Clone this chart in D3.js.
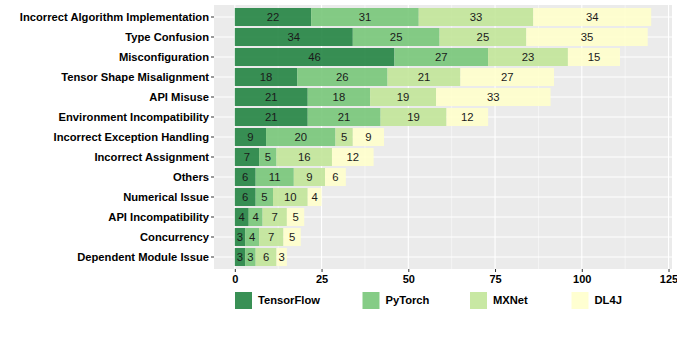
<!DOCTYPE html>
<html>
<head>
<meta charset="utf-8">
<script src="https://cdn.jsdelivr.net/npm/d3@7"></script>
<style>
  body { margin: 0; background: #fff; }
  text { font-family: "Liberation Sans", Arial, sans-serif; }
</style>
</head>
<body>
<script>
// categories, top to bottom
const categories = [
  "Incorrect Algorithm Implementation", "Type Confusion", "Misconfiguration",
  "Tensor Shape Misalignment", "API Misuse", "Environment Incompatibility",
  "Incorrect Exception Handling", "Incorrect Assignment", "Others",
  "Numerical Issue", "API Incompatibility", "Concurrency", "Dependent Module Issue"
];
const frameworks = ["TensorFlow", "PyTorch", "MXNet", "DL4J"];
const tensorflow = [22, 34, 46, 18, 21, 21, 9, 7, 6, 6, 4, 3, 3];
const pytorch    = [31, 25, 27, 26, 18, 21, 20, 5, 11, 5, 4, 4, 3];
const mxnet      = [33, 25, 23, 21, 19, 19, 5, 16, 9, 10, 7, 7, 6];
const dl4j       = [34, 35, 15, 27, 33, 12, 9, 12, 6, 4, 5, 5, 3];
const xTicks = [0, 25, 50, 75, 100, 125];
const colors = ["#238443", "#78c679", "#c2e699", "#ffffcc"];

const W = 677, H = 343;
const panel = { left: 214, top: 5, right: 672, bottom: 269 };

const rows = categories.map((c, i) => ({
  category: c,
  TensorFlow: tensorflow[i], PyTorch: pytorch[i], MXNet: mxnet[i], DL4J: dl4j[i]
}));
const stacked = d3.stack().keys(frameworks)(rows);

const x = d3.scaleLinear().domain([-6, 126]).range([panel.left, panel.right]);
const y = d3.scaleBand().domain(categories)
  .range([panel.top, panel.bottom]).paddingInner(0.1).paddingOuter(0.15);
const color = d3.scaleOrdinal().domain(frameworks).range(colors);

const svg = d3.select("body").append("svg")
  .attr("width", W).attr("height", H);

// panel background
svg.append("rect")
  .attr("x", panel.left).attr("y", panel.top)
  .attr("width", panel.right - panel.left).attr("height", panel.bottom - panel.top)
  .attr("fill", "#ebebeb");

// minor grid
const minor = [12.5, 37.5, 62.5, 87.5, 112.5];
svg.append("g").selectAll("line").data(minor).join("line")
  .attr("x1", d => x(d)).attr("x2", d => x(d))
  .attr("y1", panel.top).attr("y2", panel.bottom)
  .attr("stroke", "#fff").attr("stroke-width", 0.5);

// major grid
svg.append("g").selectAll("line").data(xTicks.filter(d => x(d) < panel.right)).join("line")
  .attr("x1", d => x(d)).attr("x2", d => x(d))
  .attr("y1", panel.top).attr("y2", panel.bottom)
  .attr("stroke", "#fff").attr("stroke-width", 1.1);
svg.append("g").selectAll("line").data(categories).join("line")
  .attr("x1", panel.left).attr("x2", panel.right)
  .attr("y1", d => y(d) + y.bandwidth() / 2).attr("y2", d => y(d) + y.bandwidth() / 2)
  .attr("stroke", "#fff").attr("stroke-width", 1.1);

// bars (slightly transparent, grid shows through)
const layers = svg.append("g").selectAll("g").data(stacked).join("g")
  .attr("fill", d => color(d.key))
  .attr("fill-opacity", 0.9);
layers.selectAll("rect").data(d => d).join("rect")
  .attr("x", d => x(d[0]))
  .attr("y", d => y(d.data.category))
  .attr("width", d => x(d[1]) - x(d[0]))
  .attr("height", y.bandwidth());

// value labels
const labels = svg.append("g").selectAll("g").data(stacked).join("g");
labels.selectAll("text").data(d => d).join("text")
  .attr("x", d => (x(d[0]) + x(d[1])) / 2)
  .attr("y", d => y(d.data.category) + y.bandwidth() / 2)
  .attr("dy", "0.35em")
  .attr("text-anchor", "middle")
  .attr("font-size", 11.3)
  .attr("fill", "#1a1a1a")
  .text(d => d[1] - d[0]);

// y axis
const yAxis = svg.append("g")
  .attr("transform", `translate(${panel.left},0)`)
  .call(d3.axisLeft(y).tickSize(3).tickPadding(2));
yAxis.select(".domain").remove();
yAxis.selectAll(".tick line").attr("stroke", "#333");
yAxis.selectAll("text")
  .attr("font-size", 11.2).attr("font-weight", "bold").attr("fill", "#000")
  .style("font-family", "'Liberation Sans', Arial, sans-serif");

// x axis
const xAxis = svg.append("g")
  .attr("transform", `translate(0,${panel.bottom})`)
  .call(d3.axisBottom(x).tickValues(xTicks).tickSize(3).tickPadding(3));
xAxis.select(".domain").remove();
xAxis.selectAll(".tick line").attr("stroke", "#333");
xAxis.selectAll("text")
  .attr("font-size", 11).attr("font-weight", "bold").attr("fill", "#000")
  .style("font-family", "'Liberation Sans', Arial, sans-serif");

// legend
const legendX = [235, 362.5, 470, 571.5];
const legend = svg.append("g").selectAll("g").data(frameworks).join("g")
  .attr("transform", (d, i) => `translate(${legendX[i]},292)`);
legend.append("rect")
  .attr("width", 17).attr("height", 17)
  .attr("fill", d => color(d))
  .attr("fill-opacity", 0.9);
legend.append("text")
  .attr("x", 23).attr("y", 8.5).attr("dy", "0.35em")
  .attr("font-size", 11.2).attr("font-weight", "bold").attr("fill", "#000")
  .text(d => d);
</script>
</body>
</html>
